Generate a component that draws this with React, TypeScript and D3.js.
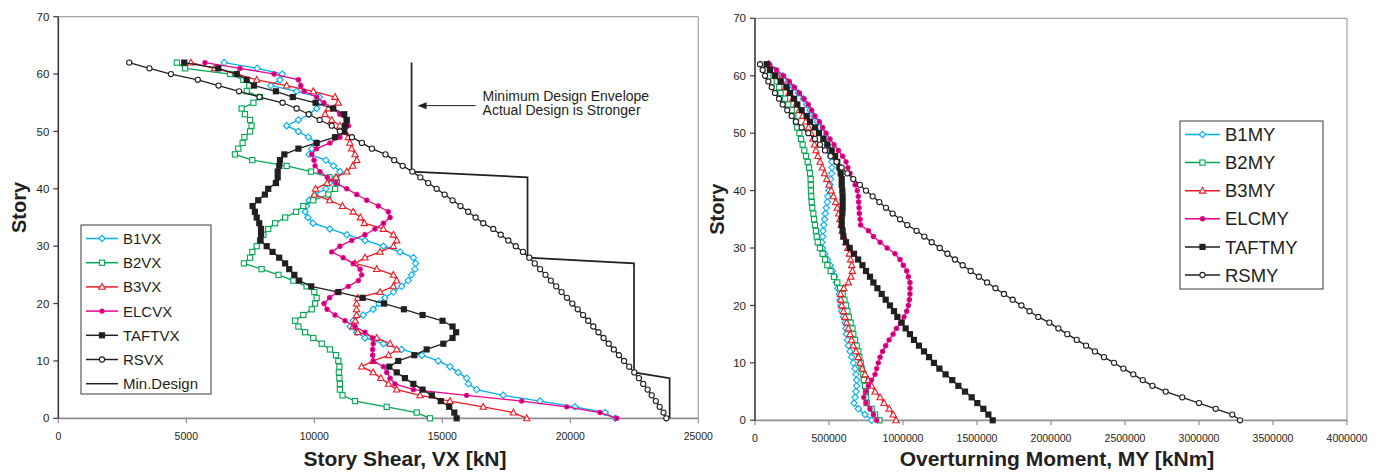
import * as d3 from "d3";

// story index 0..62 (values below are listed from story 0 upward)
const STORIES = d3.range(0, 63);

// ---- left panel: story shear VX [kN]
const B1VX = [
  21750, 21360, 20180, 18820, 17380, 16340, 16020, 15950, 15620, 15300,
  14840, 14200, 13410, 12700, 11980, 11660, 11400, 11520, 11910, 12300,
  12530, 12760, 13090, 13410, 13670, 13800, 13930, 13960, 13870, 13350,
  12700, 11980, 11270, 10610, 9950, 9750, 9640, 9700, 9800, 10030,
  10450, 10600, 10850, 11000, 10750, 10450, 9800, 9900, 10090, 9770,
  9380, 8920, 9380, 9800, 10090, 10200, 10200, 9310, 8300, 8660,
  8750, 7770, 6480,
];
const B2VX = [
  14520, 14000, 12830, 11590, 11100, 11000, 11000, 10980, 10960, 10980,
  10940, 10850, 10610, 10290, 9960, 9640, 9380, 9250, 9570, 9900,
  10030, 10090, 10000, 9700, 9180, 8600, 7940, 7250, 7490, 7580,
  7750, 7880, 8010, 8200, 8470, 8860, 9290, 9570, 9960, 10550,
  10810, 10880, 10590, 9870, 8920, 7580, 6900, 7030, 7200, 7270,
  7490, 7550, 7490, 7290, 7160, 7620, 7880, 7360, 7460, 7230,
  6710, 4950, 4630,
];
const B3VX = [
  18300, 17780, 16600, 15300, 14130, 13220, 12900, 12600, 12300, 11850,
  12300, 12900, 13220, 12960, 12440, 11700, 11520, 11600, 11650, 11650,
  11650, 11700, 12570, 13090, 13220, 13090, 12440, 11590, 11980, 12570,
  13090, 13220, 13090, 12700, 11950, 11800, 11520, 11100, 10600, 10000,
  10050, 10500, 10850, 11270, 11500, 11660, 11590, 11460, 11390, 11330,
  11200, 11000, 10680, 10420, 10550, 10940, 10810, 9960, 8920, 7750,
  7000, 6100, 5180,
];
const ELCVX = [
  21810, 21160, 19860, 18100, 15950, 13870, 13150, 12960, 12830, 12700,
  12300, 12280, 12280, 12300, 12280, 11980, 11590, 11200, 10810, 10500,
  10380, 10600, 10880, 11330, 11720, 11850, 11790, 11520, 11130, 10680,
  11000, 11460, 11980, 12370, 12700, 12960, 12890, 12500, 12050, 11660,
  11270, 10850, 10510, 10220, 10030, 9990, 9900, 10090, 10610, 11000,
  11160, 11330, 11240, 11000, 10720, 10380, 10090, 9600, 9470, 9380,
  8430, 7100, 5730,
];
const TAFTVX = [
  15560, 15470, 15270, 14940, 14590, 14230, 13870, 13540, 13220, 12930,
  13280, 13910, 14390, 15040, 15400, 15540, 15400, 15010, 14230, 13500,
  12730, 11890, 10940, 9880, 9410, 9220, 9020, 8860, 8630, 8370,
  8140, 7900, 7920, 7920, 7850, 7750, 7680, 7590, 7810, 8070,
  8200, 8500, 8570, 8570, 8630, 8660, 8830, 9380, 10090, 10810,
  11170, 11200, 11270, 11170, 10740, 10050, 9160, 8500, 7640, 7360,
  6970, 6250, 4920,
];
const RSVX = [
  23750, 23640, 23490, 23340, 23180, 23020, 22850, 22680, 22500, 22300,
  22100, 21900, 21700, 21500, 21300, 21100, 20900, 20700, 20500, 20290,
  20080, 19870, 19660, 19450, 19240, 19030, 18820, 18610, 18400, 18150,
  17870, 17580, 17280, 16990, 16600, 16300, 16010, 15710, 15400, 15090,
  14780, 14450, 14140, 13830, 13450, 13120, 12780, 12250, 11860, 11470,
  11000, 10680, 10210, 9780, 9310, 8760, 7860, 7060, 6260, 5450,
  4400, 3560, 2770,
];
const MIN_DESIGN_X = [13800, 13800, 18330, 18330, 22490, 22490, 23880, 23880];
const MIN_DESIGN_STORY = [62, 43, 42, 28, 27, 8, 7, 0];

// ---- right panel: overturning moment MY [kNm]
const B1MY = [
  788000, 743000, 698000, 669000, 676000, 682000, 687000, 687000, 682000, 676000,
  664000, 653000, 642000, 631000, 626000, 619000, 615000, 608000, 597000, 586000,
  580000, 574000, 570000, 560000, 550000, 538000, 524000, 508000, 490000, 472000,
  455000, 452000, 457000, 460000, 465000, 470000, 475000, 482000, 489000, 492000,
  499000, 507000, 511000, 518000, 520000, 520000, 511000, 502000, 489000, 473000,
  457000, 439000, 421000, 397000, 372000, 349000, 327000, 293000, 259000, 225000,
  187000, 135000, 96000,
];
const B2MY = [
  840000, 811000, 788000, 755000, 750000, 750000, 743000, 735000, 732000, 721000,
  714000, 705000, 698000, 687000, 676000, 664000, 658000, 646000, 634000, 624000,
  615000, 604000, 592000, 574000, 556000, 534000, 511000, 489000, 473000, 457000,
  439000, 424000, 417000, 412000, 405000, 399000, 394000, 387000, 383000, 380000,
  378000, 377000, 376000, 372000, 365000, 356000, 345000, 333000, 322000, 311000,
  300000, 286000, 277000, 259000, 248000, 225000, 203000, 173000, 164000, 147000,
  125000, 105000, 85000,
];
const B3MY = [
  953000, 934000, 907000, 872000, 845000, 811000, 788000, 766000, 743000, 725000,
  710000, 698000, 682000, 664000, 653000, 642000, 631000, 619000, 608000, 597000,
  586000, 580000, 578000, 600000, 631000, 648000, 658000, 653000, 646000, 638000,
  628000, 615000, 600000, 590000, 583000, 574000, 566000, 556000, 545000, 530000,
  515000, 500000, 485000, 470000, 455000, 440000, 425000, 412000, 402000, 392000,
  378000, 362000, 343000, 322000, 300000, 278000, 255000, 230000, 205000, 180000,
  150000, 120000, 90000,
];
const ELCMY = [
  822000, 800000, 777000, 750000, 735000, 750000, 766000, 788000, 811000, 822000,
  833000, 845000, 862000, 883000, 906000, 933000, 956000, 983000, 1007000, 1025000,
  1036000, 1043000, 1047000, 1047000, 1047000, 1036000, 1025000, 1002000, 980000, 946000,
  893000, 845000, 800000, 766000, 714000, 710000, 705000, 703000, 700000, 698000,
  691000, 676000, 664000, 642000, 628000, 615000, 592000, 563000, 534000, 507000,
  480000, 457000, 435000, 405000, 383000, 360000, 331000, 300000, 266000, 232000,
  192000, 146000, 96000,
];
const TAFTMY = [
  1606000, 1577000, 1543000, 1502000, 1464000, 1419000, 1374000, 1333000, 1288000, 1246000,
  1209000, 1176000, 1142000, 1108000, 1074000, 1047000, 1018000, 991000, 962000, 939000,
  912000, 883000, 856000, 827000, 800000, 777000, 750000, 726000, 697000, 669000,
  640000, 615000, 597000, 592000, 586000, 586000, 590000, 592000, 592000, 592000,
  590000, 586000, 586000, 579000, 570000, 556000, 541000, 518000, 489000, 462000,
  432000, 405000, 372000, 349000, 315000, 286000, 264000, 237000, 214000, 173000,
  135000, 101000, 79000,
];
const RSMY = [
  3277000, 3225000, 3113000, 3000000, 2887000, 2775000, 2685000, 2620000, 2556000, 2489000,
  2426000, 2358000, 2297000, 2237000, 2174000, 2110000, 2050000, 1989000, 1914000, 1855000,
  1800000, 1741000, 1682000, 1625000, 1568000, 1513000, 1457000, 1403000, 1351000, 1300000,
  1248000, 1194000, 1144000, 1092000, 1029000, 980000, 930000, 885000, 840000, 795000,
  750000, 709000, 664000, 624000, 586000, 551000, 511000, 473000, 439000, 405000,
  360000, 315000, 277000, 248000, 218000, 187000, 162000, 135000, 113000, 90000,
  68000, 52000, 34000,
];

const SHEAR_TICKS = [0, 5000, 10000, 15000, 20000, 25000];
const MOMENT_TICKS = [0, 500000, 1000000, 1500000, 2000000, 2500000, 3000000, 3500000, 4000000];
const STORY_TICKS = [0, 10, 20, 30, 40, 50, 60, 70];

const SHEAR_NAMES = ["B1VX", "B2VX", "B3VX", "ELCVX", "TAFTVX", "RSVX"];
const MOMENT_NAMES = ["B1MY", "B2MY", "B3MY", "ELCMY", "TAFTMY", "RSMY"];
const COLORS = ["#00aeef", "#00a651", "#ed1c24", "#ec008c", "#231f20", "#231f20"];
const MARKERS = ["diamond", "square", "triangle", "dot", "block", "circle"];

const FONT = "'Liberation Sans', Arial, Helvetica, sans-serif";
const INK = "#231f20";

type Series = { name: string; values: number[]; color: string; marker: string };

function Marker({ kind, x, y, color }: { kind: string; x: number; y: number; color: string }) {
  if (kind === "diamond")
    return <path d={`M${x},${y - 3.2}L${x + 3.2},${y}L${x},${y + 3.2}L${x - 3.2},${y}Z`} fill="#fff" stroke={color} strokeWidth={1.1} />;
  if (kind === "square")
    return <rect x={x - 2.6} y={y - 2.6} width={5.2} height={5.2} fill="#fff" stroke={color} strokeWidth={1.1} />;
  if (kind === "triangle")
    return <path d={`M${x},${y - 3.4}L${x + 3.2},${y + 2.4}L${x - 3.2},${y + 2.4}Z`} fill="#fff" stroke={color} strokeWidth={1.1} />;
  if (kind === "dot")
    return (
      <g>
        <circle cx={x} cy={y} r={2.7} fill={color} />
        <circle cx={x} cy={y} r={0.9} fill="#6b0040" />
      </g>
    );
  if (kind === "block") return <rect x={x - 3.1} y={y - 3.1} width={6.2} height={6.2} fill={color} />;
  return <circle cx={x} cy={y} r={2.6} fill="#fff" stroke={color} strokeWidth={1.1} />;
}

type PanelProps = {
  series: Series[];
  xDomain: [number, number];
  xRange: [number, number];
  yRange: [number, number];
  xTicks: number[];
  xTitle: string;
  xTitleX: number;
  yTitleX: number;
  tickFont: number;
  legend: { x: number; y: number; w: number; h: number; row: number; font: number; sample: number };
  extraLegend?: string;
  children?: (x: d3.ScaleLinear<number, number>, y: d3.ScaleLinear<number, number>) => any;
};

function Panel(p: PanelProps) {
  const x = d3.scaleLinear().domain(p.xDomain).range(p.xRange);
  const y = d3.scaleLinear().domain([0, 70]).range(p.yRange);
  const [x0, x1] = p.xRange;
  const [yb, yt] = p.yRange;
  const line = (vals: number[]) =>
    d3.line<number>().x((v) => x(v)).y((_, i) => y(STORIES[i]))(vals) ?? "";
  const lg = p.legend;
  const legendRows = p.series.map((s) => s.name).concat(p.extraLegend ? [p.extraLegend] : []);

  return (
    <g fontFamily={FONT} fill={INK}>
      {/* frame */}
      <line x1={x0} x2={x1} y1={yt} y2={yt} stroke="#a3a3a3" strokeWidth={1.2} />
      <line x1={x1} x2={x1} y1={yt} y2={yb} stroke="#a3a3a3" strokeWidth={1.2} />
      {/* x axis */}
      <line x1={x0} x2={x1} y1={yb} y2={yb} stroke="#8f8f8f" strokeWidth={1.8} />
      {p.xTicks.map((t) => (
        <g key={t}>
          <line x1={x(t)} x2={x(t)} y1={yb} y2={yb + 5} stroke="#8f8f8f" strokeWidth={1.2} />
          <text x={x(t)} y={yb + 22} fontSize={p.tickFont} textAnchor="middle">
            {t}
          </text>
        </g>
      ))}
      {/* y axis */}
      <line x1={x0} x2={x0} y1={yt} y2={yb} stroke="#3a3a3a" strokeWidth={1.6} />
      {STORY_TICKS.map((t) => (
        <g key={t}>
          <line x1={x0 - 5} x2={x0} y1={y(t)} y2={y(t)} stroke="#3a3a3a" strokeWidth={1.2} />
          <text x={x0 - 9} y={y(t)} dy="0.36em" fontSize={11.5} textAnchor="end">
            {t}
          </text>
        </g>
      ))}
      {/* titles */}
      <text x={p.xTitleX} y={466} fontSize={21} fontWeight="bold" textAnchor="middle">
        {p.xTitle}
      </text>
      <text
        transform={`translate(${p.yTitleX},${(yb + yt) / 2 - 10}) rotate(-90)`}
        fontSize={20}
        fontWeight="bold"
        textAnchor="middle"
      >
        Story
      </text>
      {p.children ? p.children(x, y) : null}
      {/* series */}
      {p.series.map((s) => (
        <g key={s.name}>
          <path d={line(s.values)} fill="none" stroke={s.color} strokeWidth={1.3} />
          {s.values.map((v, i) => (
            <Marker key={i} kind={s.marker} x={x(v)} y={y(STORIES[i])} color={s.color} />
          ))}
        </g>
      ))}
      {/* legend */}
      <rect x={lg.x} y={lg.y} width={lg.w} height={lg.h} fill="#fff" stroke="#3a3a3a" strokeWidth={1} />
      {legendRows.map((name, i) => {
        const ry = lg.y + 13.5 + i * lg.row;
        const s = p.series[i];
        const color = s ? s.color : INK;
        const sx = lg.x + 5;
        return (
          <g key={name}>
            <line x1={sx} x2={sx + lg.sample} y1={ry} y2={ry} stroke={color} strokeWidth={1.5} />
            {s ? <Marker kind={s.marker} x={sx + lg.sample / 2} y={ry} color={color} /> : null}
            <text x={sx + lg.sample + 5} y={ry} dy="0.36em" fontSize={lg.font}>
              {name}
            </text>
          </g>
        );
      })}
    </g>
  );
}

export default function App() {
  const shearSeries: Series[] = [B1VX, B2VX, B3VX, ELCVX, TAFTVX, RSVX].map((values, i) => ({
    name: SHEAR_NAMES[i],
    values,
    color: COLORS[i],
    marker: MARKERS[i],
  }));
  const momentSeries: Series[] = [B1MY, B2MY, B3MY, ELCMY, TAFTMY, RSMY].map((values, i) => ({
    name: MOMENT_NAMES[i],
    values,
    color: COLORS[i],
    marker: MARKERS[i],
  }));

  return (
    <svg
      width={1382}
      height={473}
      style={{ position: "absolute", left: 0, top: 0, background: "#fff" }}
    >
      <rect width={1382} height={473} fill="#fff" />
      <Panel
        series={shearSeries}
        xDomain={[0, 25000]}
        xRange={[58.3, 698.3]}
        yRange={[418.3, 16.7]}
        xTicks={SHEAR_TICKS}
        xTitle="Story Shear, VX [kN]"
        xTitleX={405}
        yTitleX={26}
        tickFont={10.5}
        legend={{ x: 81, y: 225, w: 130, h: 169, row: 24.2, font: 15, sample: 32 }}
        extraLegend="Min.Design"
      >
        {(x, y) => {
          const pts = MIN_DESIGN_X.map((v, i) => [x(v), y(MIN_DESIGN_STORY[i])] as [number, number]);
          const tipX = x(MIN_DESIGN_X[0]) + 6;
          const ay = y(54.5);
          return (
            <g>
              <path d={d3.line()(pts) ?? ""} fill="none" stroke={INK} strokeWidth={1.7} />
              <line x1={tipX + 3} x2={tipX + 58} y1={ay} y2={ay} stroke={INK} strokeWidth={1} />
              <path d={`M${tipX},${ay}L${tipX + 9},${ay - 3.5}L${tipX + 9},${ay + 3.5}Z`} fill={INK} />
              <text x={tipX + 65} y={ay - 4.5} fontSize={14}>
                Minimum Design Envelope
              </text>
              <text x={tipX + 65} y={ay + 9.5} fontSize={14}>
                Actual Design is Stronger
              </text>
            </g>
          );
        }}
      </Panel>
      <Panel
        series={momentSeries}
        xDomain={[0, 4000000]}
        xRange={[755, 1347]}
        yRange={[420.3, 18.3]}
        xTicks={MOMENT_TICKS}
        xTitle="Overturning Moment, MY [kNm]"
        xTitleX={1057}
        yTitleX={724}
        tickFont={10.5}
        legend={{ x: 1180, y: 121, w: 143, h: 168, row: 28.1, font: 18.5, sample: 35 }}
      />
    </svg>
  );
}
